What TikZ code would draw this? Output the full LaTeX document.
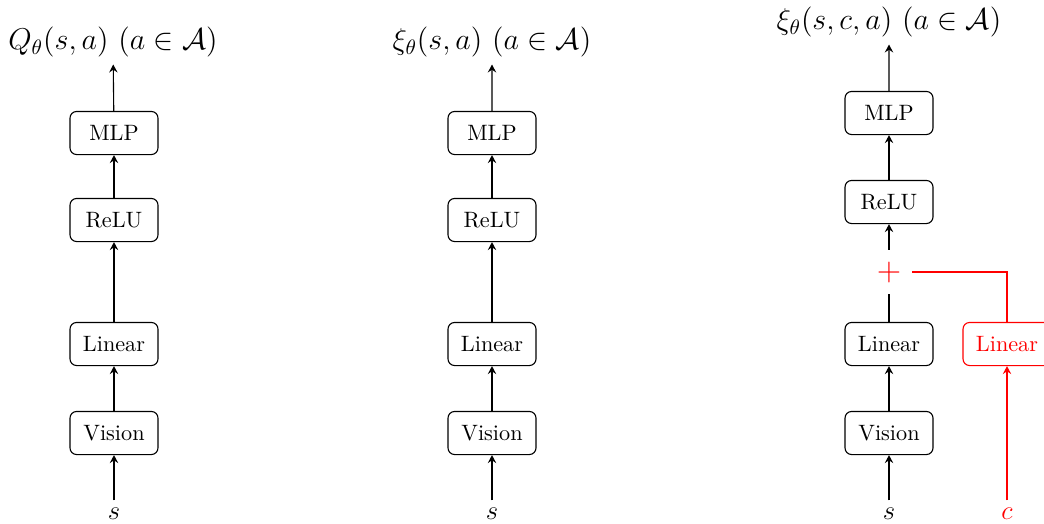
\documentclass[tikz,border=0pt]{standalone}
\usetikzlibrary{arrows.meta}
\begin{document}
\begin{tikzpicture}[x=0.45pt,y=-0.45pt, line width=0.5pt,
  blk/.style={draw, rounded corners=3pt, minimum width=39.6pt, minimum height=19.4pt, inner sep=2pt},
  lbl/.style={font=\Large, scale=0.94},
  inp/.style={font=\large},
  arr/.style={-{Stealth[length=3.6pt,width=3.8pt,inset=1.3pt]}},
  redc/.style={red}]
\clip (0,0) rectangle (1044,523);
% column 1
\node[lbl] (o1) at (113,42) {$Q_\theta(s,a)\ (a\in\mathcal{A})$};
\node[blk] (m1) at (114,133) {MLP};
\node[blk] (r1) at (114,220) {ReLU};
\node[blk] (l1) at (114,344) {Linear};
\node[blk] (v1) at (114,433) {Vision};
\node[inp] (s1) at (114,514) {$s$};
\draw[arr] (s1) -- (v1);
\draw[arr] (v1) -- (l1);
\draw[arr] (l1) -- (r1);
\draw[arr] (r1) -- (m1);
\draw[arr] (m1) -- (o1);
% column 2
\node[lbl] (o2) at (492,42) {$\xi_\theta(s,a)\ (a\in\mathcal{A})$};
\node[blk] (m2) at (492,133) {MLP};
\node[blk] (r2) at (492,220) {ReLU};
\node[blk] (l2) at (492,344) {Linear};
\node[blk] (v2) at (492,433) {Vision};
\node[inp] (s2) at (492,514) {$s$};
\draw[arr] (s2) -- (v2);
\draw[arr] (v2) -- (l2);
\draw[arr] (l2) -- (r2);
\draw[arr] (r2) -- (m2);
\draw[arr] (m2) -- (o2);
% column 3
\node[lbl] (o3) at (889,22) {$\xi_\theta(s,c,a)\ (a\in\mathcal{A})$};
\node[blk] (m3) at (889,113) {MLP};
\node[blk] (r3) at (889,202) {ReLU};
\node[minimum width=20pt, minimum height=19.4pt, inner sep=0pt, text=red, font=\Large] (p3) at (889,272) {$+$};
\node[blk] (l3) at (889,344) {Linear};
\node[blk] (v3) at (889,433) {Vision};
\node[inp] (s3) at (889,514) {$s$};
\draw[arr] (s3) -- (v3);
\draw[arr] (v3) -- (l3);
\draw (l3) -- (p3);
\draw[arr] (p3) -- (r3);
\draw[arr] (r3) -- (m3);
\draw[arr] (m3) -- (o3);
% red branch
\node[blk, redc] (rl) at (1007,344) {Linear};
\node[inp, text=red] (c3) at (1007,514) {$c$};
\draw[arr, redc] (c3) -- (rl);
\draw[redc] (rl) |- (p3);
\end{tikzpicture}
\end{document}
